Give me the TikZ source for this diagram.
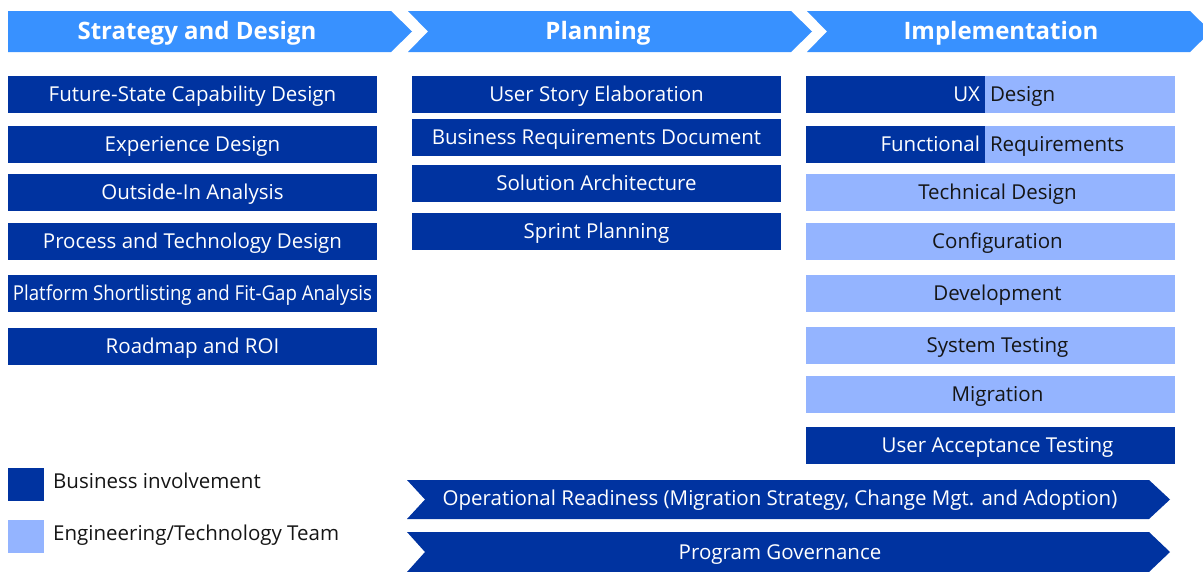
\documentclass[tikz,border=0pt]{standalone}
\usepackage{fontspec}
\setmainfont{Open Sans}
\usepackage{xcolor}
\usetikzlibrary{positioning}
\definecolor{hdrblue}{HTML}{3891FF}
\definecolor{bizblue}{HTML}{0033A0}
\definecolor{engblue}{HTML}{94B4FF}
\definecolor{inkgray}{HTML}{151515}
\newcommand{\imtxt}[1]{\hspace*{14pt}#1}

\tikzset{
  boxtxt/.style={inner sep=0pt, text height=14.6pt, text depth=0pt, font=\fontsize{20.5}{24}\selectfont},
  bizbox/.style={boxtxt, fill=bizblue, text=white, minimum width=369pt, minimum height=37pt},
  engbox/.style={boxtxt, fill=engblue, text=inkgray, minimum width=369pt, minimum height=37pt},
  hdrtxt/.style={inner sep=0pt, text height=17pt, text depth=0pt, text=white, font=\fontsize{24}{28}\bfseries\selectfont},
}

\begin{document}
\begin{tikzpicture}[x=1pt,y=-1pt]
\useasboundingbox (0,0) rectangle (1203,571);
% Phase headers
\fill[hdrblue] (8,11) -- (391,11) -- (412,31.5) -- (391,52) -- (8,52) -- cycle;
\fill[hdrblue] (408,11) -- (791,11) -- (812,31.5) -- (791,52) -- (408,52) -- (428,31.5) -- cycle;
\fill[hdrblue] (807,11) -- (1190,11) -- (1211,31.5) -- (1190,52) -- (807,52) -- (827,31.5) -- cycle;
\node[hdrtxt] (strat) at (197,31) {Strategy and Design};
\node[hdrtxt] (plan) at (598,31) {Planning};
\node[hdrtxt] (impl) at (1001,31) {Implementation};

% Strategy and Design column
\node[bizbox] (fscd) at (192.5,94) {Future-State Capability Design};
\node[bizbox] (expd) at (192.5,144.5) {Experience Design};
\node[bizbox] (oia) at (192.5,192) {Outside-In Analysis};
\node[bizbox] (ptd) at (192.5,241.5) {Process and Technology Design};
\node[bizbox] (psfg) at (192.5,293) {\scalebox{0.91}[1]{Platform Shortlisting and Fit-Gap Analysis}};
\node[bizbox] (roi) at (192.5,346) {Roadmap and ROI};

% Planning column
\node[bizbox] (use) at (596.5,94) {User Story Elaboration};
\node[bizbox] (brd) at (596.5,137) {Business Requirements Document};
\node[bizbox] (sola) at (596.5,183) {Solution Architecture};
\node[bizbox] (sprp) at (596.5,231) {Sprint Planning};

% Implementation column
\node[bizbox, minimum width=179pt, text width=169pt, align=right] (uxb) at (895.5,94) {UX};
\node[engbox, minimum width=190pt, text width=180pt, align=left] (uxe) at (1080,94) {Design};
\node[bizbox, minimum width=179pt, text width=169pt, align=right] (frb) at (895.5,144.5) {Functional};
\node[engbox, minimum width=190pt, text width=180pt, align=left] (fre) at (1080,144.5) {Requirements};
\node[engbox] (tecd) at (990.5,192) {\imtxt{Technical Design}};
\node[engbox] (conf) at (990.5,241.5) {\imtxt{Configuration}};
\node[engbox] (dev) at (990.5,293.5) {\imtxt{Development}};
\node[engbox] (syst) at (990.5,345.5) {\imtxt{System Testing}};
\node[engbox] (migr) at (990.5,394) {\imtxt{Migration}};
\node[bizbox] (uat) at (990.5,445.5) {\imtxt{User Acceptance Testing}};

% Spanning bars
\fill[bizblue] (407,480) -- (1149,480) -- (1170,499.5) -- (1149,519) -- (407,519) -- (425,499.5) -- cycle;
\fill[bizblue] (407,532) -- (1149,532) -- (1170,552) -- (1149,572) -- (407,572) -- (425,552) -- cycle;
\node[boxtxt, text=white] (opr) at (780,498) {Operational Readiness (Migration Strategy, Change Mgt. and Adoption)};
\node[boxtxt, text=white] (prg) at (780,552) {Program Governance};

% Legend
\fill[bizblue] (8,468) rectangle (44,501);
\fill[engblue] (8,520) rectangle (44,553);
\node[boxtxt, text=inkgray, anchor=west] (lbiz) at (53,481) {Business involvement};
\node[boxtxt, text=inkgray, anchor=west] (leng) at (53,533) {Engineering/Technology Team};
\end{tikzpicture}
\end{document}
